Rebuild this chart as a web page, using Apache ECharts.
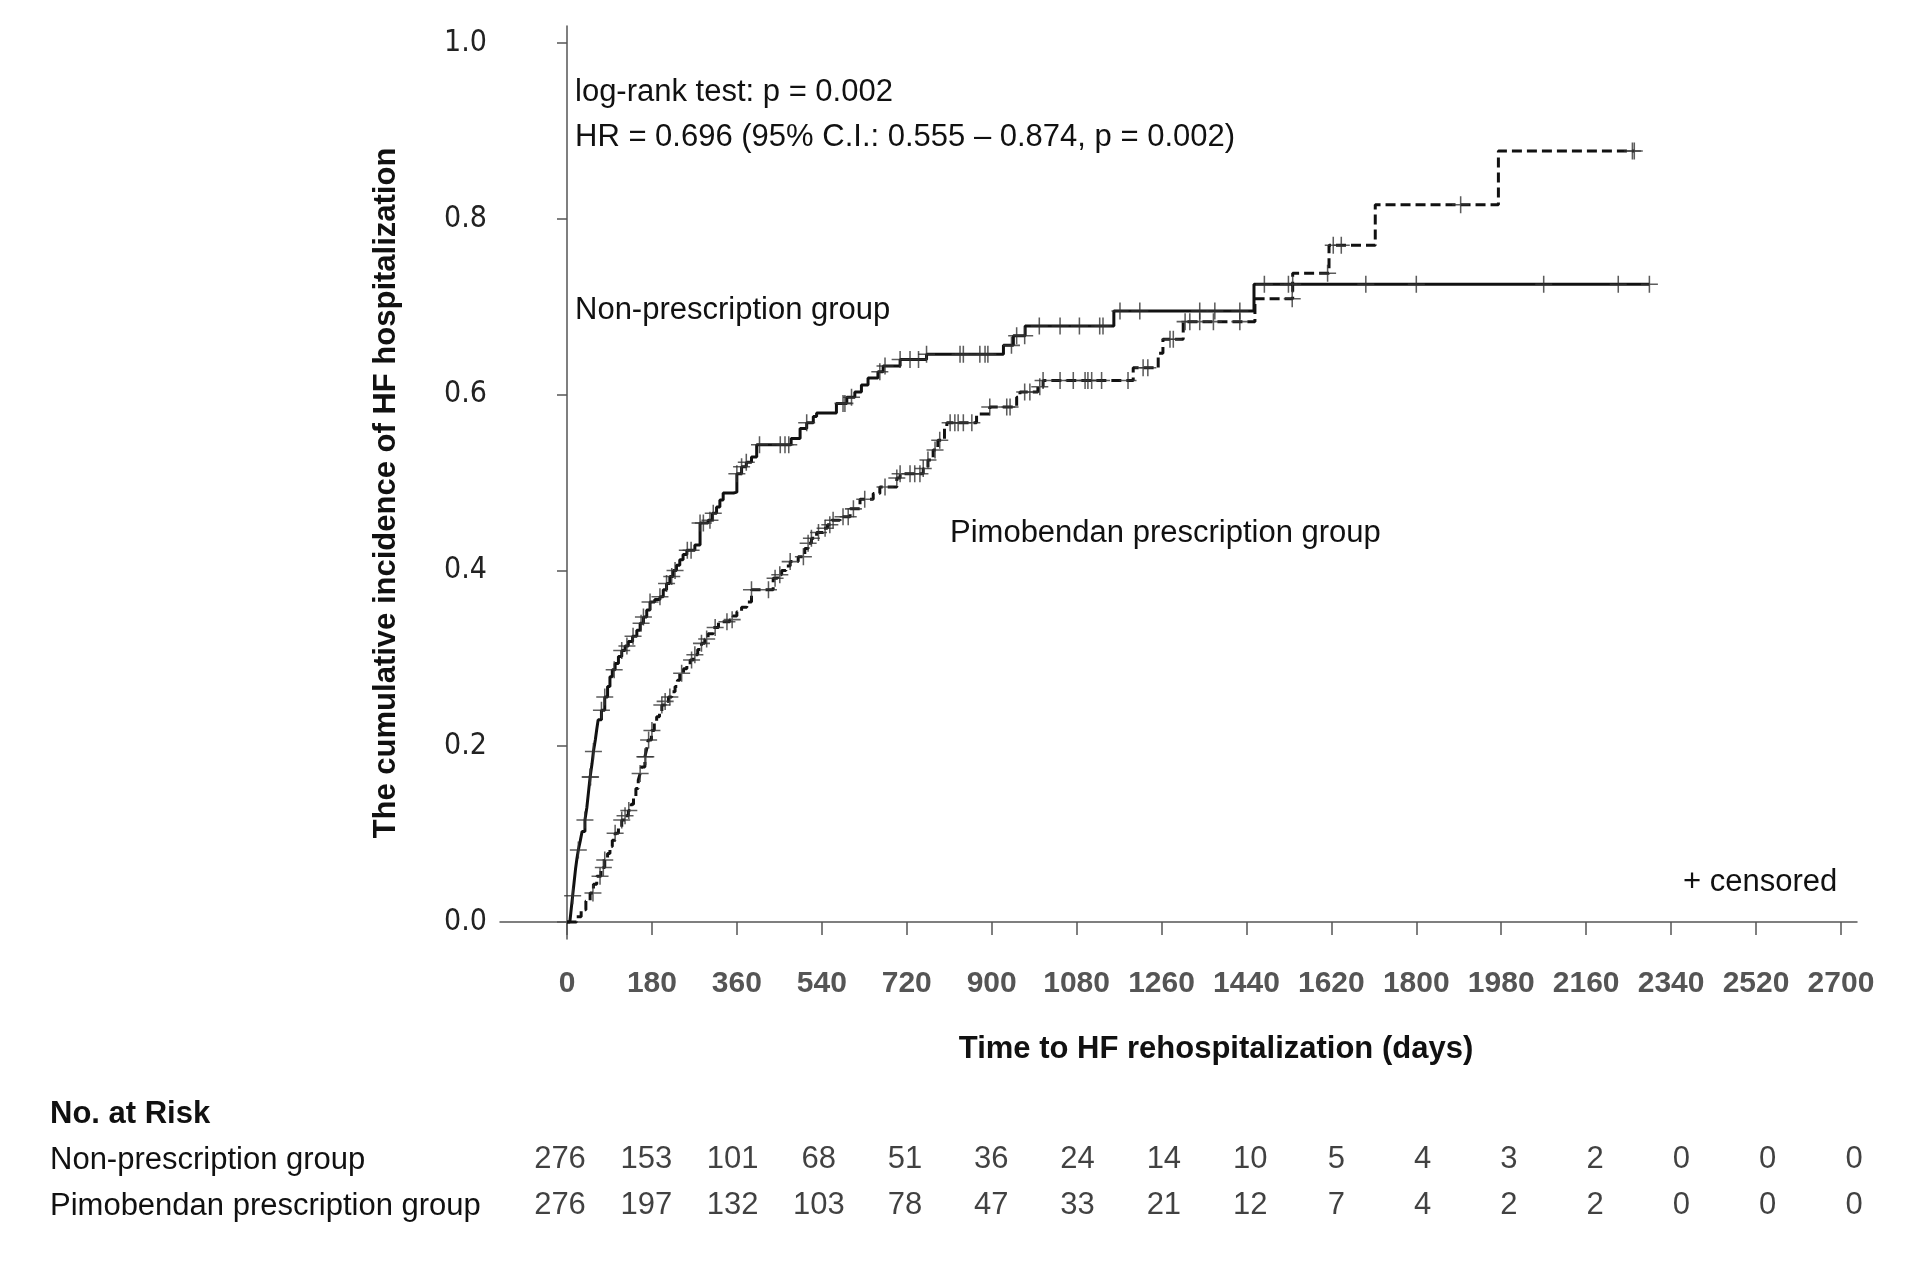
<!DOCTYPE html>
<html>
<head>
<meta charset="utf-8">
<script src="https://cdn.jsdelivr.net/npm/echarts@6/dist/echarts.min.js"></script>
<style>
html,body{margin:0;padding:0;background:#fff;}
#chart{width:1929px;height:1269px;}
</style>
</head>
<body>
<div id="chart"></div>
<script>
// ---------- data ----------
const xTickDays = [0,180,360,540,720,900,1080,1260,1440,1620,1800,1980,2160,2340,2520,2700];
const yTickValues = [0,0.2,0.4,0.6,0.8,1.0];

// Non-prescription group: [day, cumulative incidence] (step starts)
const nonSteps = [[0,0],[6,0],[8,0.01],[10,0.02],[12,0.03],[15,0.045],[18,0.06],[21,0.072],[24,0.082],[28,0.092],[32,0.103],[38,0.116],[42,0.13],[46,0.15],[49,0.165],[53,0.18],[56,0.194],[60,0.207],[63,0.219],[66,0.23],[73,0.241],[80,0.256],[86,0.268],[91,0.279],[96,0.287],[102,0.294],[109,0.302],[116,0.309],[123,0.314],[130,0.319],[139,0.325],[148,0.332],[155,0.34],[162,0.347],[169,0.355],[176,0.364],[186,0.367],[197,0.37],[204,0.378],[211,0.385],[218,0.393],[225,0.4],[232,0.406],[239,0.412],[246,0.418],[254,0.423],[271,0.429],[282,0.454],[299,0.457],[308,0.465],[317,0.472],[324,0.48],[331,0.488],[353,0.489],[360,0.51],[370,0.518],[380,0.523],[391,0.529],[402,0.543],[475,0.55],[494,0.5615],[508,0.568],[522,0.575],[529,0.579],[571,0.59],[593,0.597],[610,0.603],[624,0.611],[638,0.619],[659,0.626],[670,0.6325],[706,0.64],[762,0.646],[925,0.656],[946,0.667],[971,0.678],[1159,0.695],[1456,0.7255],[2294,0.7255]];

// Pimobendan prescription group
const pimoSteps = [[0,0],[20,0.006],[30,0.014],[40,0.024],[49,0.033],[56,0.043],[63,0.052],[72,0.062],[80,0.0705],[86,0.078],[91,0.086],[96,0.093],[102,0.101],[109,0.108],[116,0.116],[123,0.121],[130,0.127],[136,0.134],[141,0.1425],[146,0.152],[151,0.1615],[155,0.169],[158,0.1765],[165,0.188],[169,0.197],[172,0.207],[179,0.218],[185,0.226],[190,0.2335],[196,0.24],[201,0.247],[208,0.251],[215,0.256],[222,0.262],[229,0.268],[234,0.275],[239,0.283],[247,0.288],[254,0.292],[261,0.298],[268,0.304],[277,0.31],[285,0.317],[292,0.322],[299,0.328],[310,0.335],[321,0.3415],[345,0.344],[352,0.348],[360,0.353],[370,0.358],[381,0.364],[391,0.378],[437,0.391],[446,0.395],[455,0.4],[464,0.405],[473,0.41],[490,0.4155],[504,0.425],[511,0.431],[518,0.4365],[529,0.443],[543,0.448],[552,0.452],[561,0.457],[578,0.461],[600,0.47],[621,0.481],[649,0.4875],[663,0.495],[699,0.505],[706,0.51],[755,0.516],[765,0.5255],[776,0.537],[786,0.548],[800,0.5615],[805,0.568],[868,0.578],[896,0.586],[953,0.597],[960,0.603],[998,0.609],[1009,0.616],[1200,0.6305],[1253,0.647],[1263,0.663],[1306,0.683],[1458,0.709],[1538,0.738],[1615,0.77],[1713,0.816],[1974,0.877],[2262,0.877]];

// censored times (days)
const nonCensor = [12,24,38,49,50,56,73,80,100,116,127,140,157,162,176,197,211,222,229,255,263,282,289,303,310,360,370,380,408,452,462,470,508,585,589,603,663,674,706,727,745,762,833,840,875,886,892,942,953,970,1001,1045,1086,1129,1136,1172,1214,1341,1373,1426,1478,1529,1538,1693,1800,2070,2228,2294];
const pimoCensor = [55,70,77,80,102,116,123,131,155,165,167,173,180,201,208,218,243,264,271,285,296,314,339,350,391,427,441,451,473,501,511,518,533,547,557,564,585,596,607,631,674,699,706,727,737,748,755,765,780,790,812,822,829,840,858,896,932,939,970,981,1002,1009,1045,1073,1098,1104,1112,1133,1189,1221,1231,1278,1285,1310,1320,1341,1370,1426,1537,1612,1624,1641,1894,2258,2262];

// number at risk
const riskDays = [0,180,360,540,720,900,1080,1260,1440,1620,1800,1980,2160,2340,2520,2700];
const nonRisk = [276,153,101,68,51,36,24,14,10,5,4,3,2,0,0,0];
const pimoRisk = [276,197,132,103,78,47,33,21,12,7,4,2,2,0,0,0];

// ---------- helpers ----------
function stepValue(steps, t){
  let v = 0;
  for (const s of steps){ if (s[0] <= t) v = s[1]; else break; }
  return v;
}
const nonCensorPts = nonCensor.map(t => [t, stepValue(nonSteps, t)]);
const pimoCensorPts = pimoCensor.map(t => [t, stepValue(pimoSteps, t)]);
const riskData = riskDays.map((d,i)=>[d,1.5,nonRisk[i]]).concat(riskDays.map((d,i)=>[d,0.5,pimoRisk[i]]));

const FONT = '"Liberation Sans", Arial, Helvetica, sans-serif';
const NARROW = '"Liberation Sans Narrow", "DejaVu Sans Condensed", "Liberation Sans", sans-serif';
const plus = 'path://M-0.09,-1 L0.09,-1 L0.09,-0.09 L1,-0.09 L1,0.09 L0.09,0.09 L0.09,1 L-0.09,1 L-0.09,0.09 L-1,0.09 L-1,-0.09 L-0.09,-0.09 Z';

const chart = echarts.init(document.getElementById('chart'), null, {renderer:'canvas'});
const option = {
  backgroundColor:'#fff',
  animation:false,
  textStyle:{fontFamily:FONT},
  grid:[
    {left:500, top:26, width:1357, height:913},
    {left:560, top:1136, width:1294, height:92}
  ],
  xAxis:[{
    type:'value', gridIndex:0, min:-142, max:2734,
    axisLine:{show:true, lineStyle:{color:'#555', width:1.5}},
    axisTick:{show:true, length:13, lineStyle:{color:'#555', width:1.5}, customValues:xTickDays},
    axisLabel:{show:true, margin:30, fontSize:30, fontWeight:'bold', color:'#555', fontFamily:FONT, customValues:xTickDays, formatter:v=>String(v)},
    splitLine:{show:false}
  },{
    type:'value', gridIndex:1, min:0, max:2700, show:false
  }],
  yAxis:[{
    type:'value', gridIndex:0, min:-0.0193, max:1.0193,
    axisLine:{show:true, lineStyle:{color:'#555', width:1.5}},
    axisTick:{show:true, length:10, lineStyle:{color:'#555', width:1.5}, customValues:yTickValues},
    axisLabel:{show:true, margin:13, fontSize:30, color:'#222', fontFamily:NARROW, customValues:yTickValues, formatter:v=>v.toFixed(1)},
    splitLine:{show:false}
  },{
    type:'value', gridIndex:1, min:0, max:2, show:false
  }],
  series:[
    {type:'line', name:'Pimobendan', xAxisIndex:0, yAxisIndex:0, step:'end', data:pimoSteps, showSymbol:false,
     lineStyle:{color:'#111', width:3, type:[10,5]}, z:2},
    {type:'line', name:'Non-prescription', xAxisIndex:0, yAxisIndex:0, step:'end', data:nonSteps, showSymbol:false,
     lineStyle:{color:'#111', width:3}, z:3},
    {type:'scatter', xAxisIndex:0, yAxisIndex:0, data:pimoCensorPts, symbol:plus, symbolSize:17,
     itemStyle:{color:'#333'}, z:4},
    {type:'scatter', xAxisIndex:0, yAxisIndex:0, data:nonCensorPts, symbol:plus, symbolSize:17,
     itemStyle:{color:'#333'}, z:4},
    {type:'scatter', xAxisIndex:1, yAxisIndex:1, data:riskData, symbolSize:0,
     label:{show:true, position:'inside', formatter:p=>String(p.value[2]), fontSize:31, color:'#111', fontFamily:FONT}}
  ],
  graphic:[
    {type:'text', x:386, y:493, rotation:Math.PI/2, style:{text:'The cumulative incidence of HF hospitalization', font:'bold 31px '+FONT, fill:'#111', align:'center', verticalAlign:'middle'}},
    {type:'text', x:1216, y:1049, style:{text:'Time to HF rehospitalization (days)', font:'bold 31px '+FONT, fill:'#111', align:'center', verticalAlign:'middle'}},
    {type:'text', x:575, y:92, style:{text:'log-rank test: p = 0.002', font:'31px '+FONT, fill:'#111', verticalAlign:'middle'}},
    {type:'text', x:575, y:137, style:{text:'HR = 0.696 (95% C.I.: 0.555 \u2013 0.874, p = 0.002)', font:'31px '+FONT, fill:'#111', verticalAlign:'middle'}},
    {type:'text', x:575, y:310, style:{text:'Non-prescription group', font:'31px '+FONT, fill:'#111', verticalAlign:'middle'}},
    {type:'text', x:950, y:533, style:{text:'Pimobendan prescription group', font:'31px '+FONT, fill:'#111', verticalAlign:'middle'}},
    {type:'text', x:1683, y:882, style:{text:'+ censored', font:'31px '+FONT, fill:'#111', verticalAlign:'middle'}},
    {type:'text', x:50, y:1114, style:{text:'No. at Risk', font:'bold 31px '+FONT, fill:'#111', verticalAlign:'middle'}},
    {type:'text', x:50, y:1160, style:{text:'Non-prescription group', font:'31px '+FONT, fill:'#111', verticalAlign:'middle'}},
    {type:'text', x:50, y:1206, style:{text:'Pimobendan prescription group', font:'31px '+FONT, fill:'#111', verticalAlign:'middle'}}
  ]
};
chart.setOption(option);
</script>
</body>
</html>
